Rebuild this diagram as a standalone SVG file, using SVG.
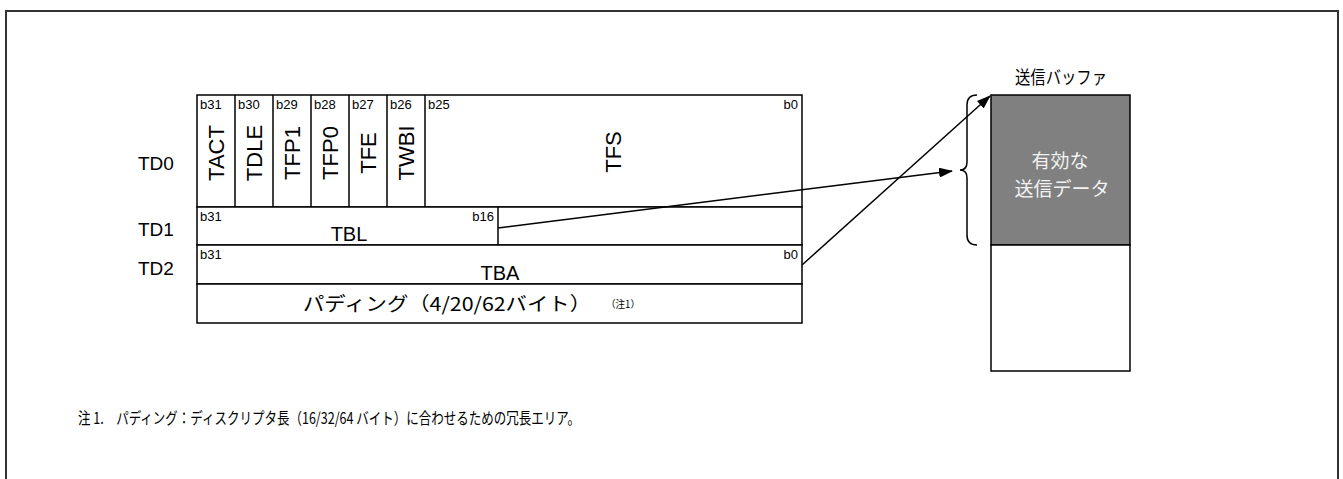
<svg xmlns="http://www.w3.org/2000/svg" width="1343" height="479" viewBox="0 0 1343 479">
<style>
.t{font-family:"Liberation Sans","Noto Sans CJK JP",sans-serif;fill:#000}
.j{font-family:"Noto Sans CJK JP","Liberation Sans",sans-serif;fill:#000}
.b{font-size:13px}
.lbl{font-size:19px}
.v{font-size:22px;text-anchor:middle}
.box{fill:#fff;stroke:#000;stroke-width:1.5}
.ln{stroke:#000;stroke-width:1.5;fill:none}
</style>
<defs>
<marker id="ah" markerWidth="14" markerHeight="10" refX="13" refY="5" orient="auto" markerUnits="userSpaceOnUse">
<path d="M0,0 L14,5 L0,10 z" fill="#000"/>
</marker>
</defs>
<rect width="1343" height="479" fill="#fff"/>
<path d="M6,479 V11 H1338 V479" fill="none" stroke="#333" stroke-width="2"/>

<g id="labels">
<text class="t lbl" x="138" y="170">TD0</text>
<text class="t lbl" x="138" y="236">TD1</text>
<text class="t lbl" x="138" y="275">TD2</text>
</g>

<g id="td0">
<rect class="box" x="197" y="95" width="605" height="112"/>
<line class="ln" x1="235" y1="95" x2="235" y2="207"/>
<line class="ln" x1="273" y1="95" x2="273" y2="207"/>
<line class="ln" x1="311" y1="95" x2="311" y2="207"/>
<line class="ln" x1="349" y1="95" x2="349" y2="207"/>
<line class="ln" x1="387" y1="95" x2="387" y2="207"/>
<line class="ln" x1="425" y1="95" x2="425" y2="207"/>
<text class="t b" x="200" y="109">b31</text>
<text class="t b" x="238" y="109">b30</text>
<text class="t b" x="276" y="109">b29</text>
<text class="t b" x="314" y="109">b28</text>
<text class="t b" x="352" y="109">b27</text>
<text class="t b" x="390" y="109">b26</text>
<text class="t b" x="428" y="109">b25</text>
<text class="t b" x="798" y="109" text-anchor="end">b0</text>
<text class="t v" transform="translate(224,153) rotate(-90)">TACT</text>
<text class="t v" transform="translate(262,153) rotate(-90)">TDLE</text>
<text class="t v" transform="translate(300,153) rotate(-90)">TFP1</text>
<text class="t v" transform="translate(338,153) rotate(-90)">TFP0</text>
<text class="t v" transform="translate(376,153) rotate(-90)">TFE</text>
<text class="t v" transform="translate(414,153) rotate(-90)">TWBI</text>
<text class="t v" transform="translate(621,152) rotate(-90)">TFS</text>
</g>

<g id="td1">
<rect class="box" x="197" y="207" width="605" height="38"/>
<line class="ln" x1="498" y1="207" x2="498" y2="245"/>
<text class="t b" x="200" y="221">b31</text>
<text class="t b" x="494" y="221" text-anchor="end">b16</text>
<text class="t" font-size="20" x="349" y="241" text-anchor="middle">TBL</text>
</g>

<g id="td2">
<rect class="box" x="197" y="245" width="605" height="39"/>
<text class="t b" x="200" y="259">b31</text>
<text class="t b" x="798" y="259" text-anchor="end">b0</text>
<text class="t" font-size="20" x="500" y="280" text-anchor="middle">TBA</text>
</g>

<g id="padding">
<rect class="box" x="197" y="284" width="605" height="39"/>
<text class="j" font-size="19" x="303" y="311" textLength="288" lengthAdjust="spacingAndGlyphs">パディング（4/20/62バイト）</text>
<text class="j" font-size="10" x="606" y="308" textLength="34" lengthAdjust="spacingAndGlyphs">（注1）</text>
</g>

<g id="buffer">
<text class="j" font-size="18" x="1015" y="84" textLength="92" lengthAdjust="spacingAndGlyphs">送信バッファ</text>
<rect x="991" y="95" width="139" height="150" fill="#808080" stroke="#000" stroke-width="1.5"/>
<rect x="991" y="245" width="139" height="126" fill="#fff" stroke="#000" stroke-width="1.5"/>
<text class="j" font-size="19" x="1060" y="168" text-anchor="middle" style="fill:#f2f2f2">有効な</text>
<text class="j" font-size="19" x="1062" y="196" text-anchor="middle" style="fill:#f2f2f2">送信データ</text>
<path class="ln" d="M977,95 Q967,95 967,105 V162 Q967,170 960,170 Q967,170 967,178 V235 Q967,245 977,245"/>
</g>

<g id="connectors">
<line class="ln" x1="498" y1="228" x2="952" y2="171" marker-end="url(#ah)"/>
<line class="ln" x1="802" y1="265" x2="990" y2="96" marker-end="url(#ah)"/>
</g>

<g id="note">
<text class="j" font-size="16" x="78" y="424" textLength="502" lengthAdjust="spacingAndGlyphs">注 1.　パディング：ディスクリプタ長（16/32/64 バイト）に合わせるための冗長エリア。</text>
</g>
</svg>
